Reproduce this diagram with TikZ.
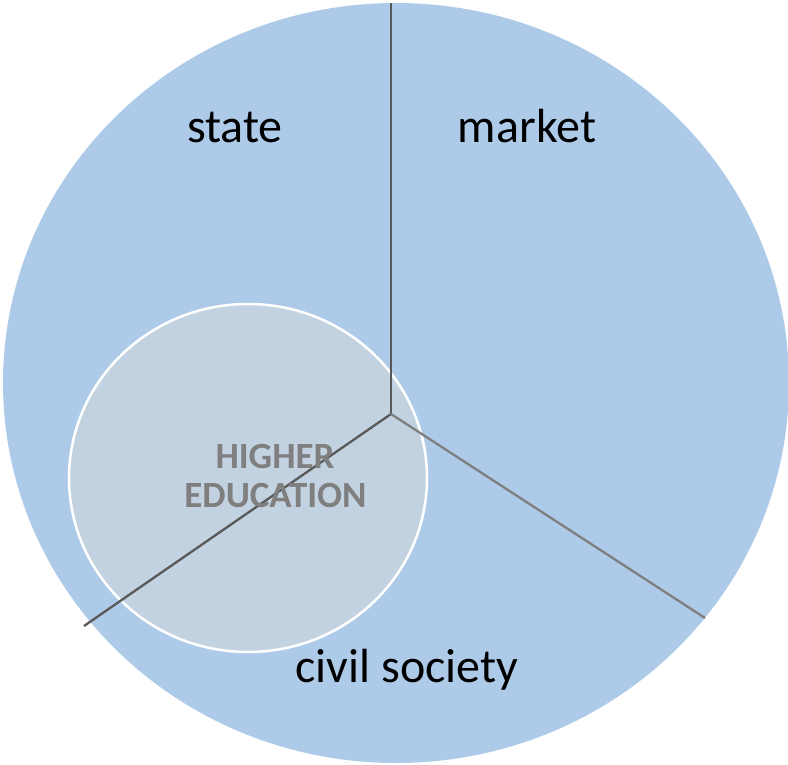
\documentclass[tikz,border=0pt]{standalone}
\usepackage{fontspec}
\setmainfont{Carlito}
\usepackage{tikz}
\definecolor{sphere}{RGB}{173,203,233}
\definecolor{hefill}{RGB}{195,210,225}
\definecolor{divdark}{RGB}{89,89,89}
\definecolor{divlight}{RGB}{127,127,127}
\definecolor{helabel}{RGB}{127,127,127}

\begin{document}
\begin{tikzpicture}[x=1pt, y=-1pt,
        sectorlabel/.style={font=\fontsize{48}{57}\selectfont, anchor=base},
        helabelstyle/.style={font=\fontsize{37}{42}\selectfont\bfseries,
                             text=helabel, anchor=base},
        divider/.style={line width=2.3pt, divdark}]
    \useasboundingbox (0,0) rectangle (788,765);

    % society as a whole
    \fill[sphere] (396,383) ellipse [x radius=393, y radius=380];

    % higher education
    \filldraw[fill=hefill, draw=white, line width=2.5pt]
        (248,478) ellipse [x radius=179, y radius=174];

    \coordinate (o) at (391,414);
    \coordinate (top) at (391,3);
    \coordinate (sw) at (84,626);
    \coordinate (se) at (705,618);

    \draw[divider] (o) -- (top);
    \draw[divider] (o) -- (sw);
    \draw[divider, divlight] (o) -- (se);

    \node[sectorlabel] (state) at (235,143) {state};
    \node[sectorlabel] (market) at (527,143) {market};
    \node[sectorlabel] (civil) at (407,682) {civil society};

    \node[helabelstyle] (he1) at (275,468) {HIGHER};
    \node[helabelstyle] (he2) at (275.5,507) {EDUCATION};
\end{tikzpicture}
\end{document}
